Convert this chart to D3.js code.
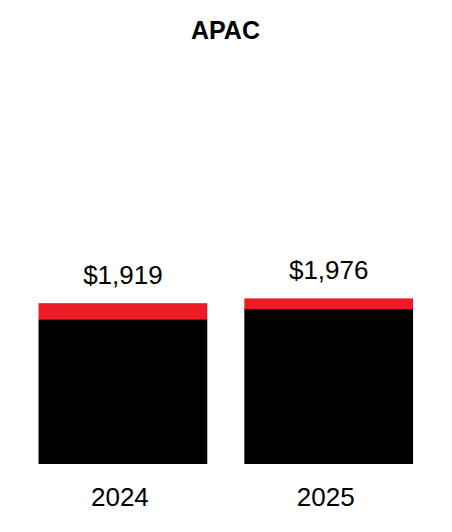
<!DOCTYPE html>
<html><head><meta charset="utf-8">
<script src="https://cdn.jsdelivr.net/npm/d3@7"></script>
<style>body{margin:0;background:#fff}svg{display:block}text{font-family:"Liberation Sans",Arial,sans-serif}</style>
</head><body><svg id="c" width="452" height="532"></svg>
<script>
const title = "APAC";
const years = ["2024", "2025"];
const baseValues = [1728, 1849];
const topValues = [191, 127];
const totals = [1919, 1976];
const totalLabels = ["$1,919", "$1,976"];

const svg = d3.select("#c");
const x = d3.scaleBand().domain(years).range([20, 431.6]).paddingInner(0.18).paddingOuter(0.09);
const y = d3.scaleLinear().domain([0, 5000]).range([464, 45]);

svg.append("text").attr("x", 225.5).attr("y", 38.5).attr("text-anchor", "middle")
  .attr("font-size", 25).attr("font-weight", "bold").text(title);

const data = years.map((yr, i) => ({yr, base: baseValues[i], top: topValues[i], total: totals[i], label: totalLabels[i]}));

svg.selectAll("rect.base").data(data).join("rect").attr("class", "base")
  .attr("x", d => x(d.yr)).attr("width", x.bandwidth())
  .attr("y", d => y(d.base)).attr("height", d => y(0) - y(d.base)).attr("fill", "#000");
svg.selectAll("rect.top").data(data).join("rect").attr("class", "top")
  .attr("x", d => x(d.yr)).attr("width", x.bandwidth())
  .attr("y", d => y(d.base + d.top)).attr("height", d => y(d.base) - y(d.base + d.top)).attr("fill", "#ED1C24");

svg.selectAll("text.val").data(data).join("text").attr("class", "val")
  .attr("x", d => x(d.yr) + x.bandwidth() / 2).attr("y", d => y(d.total) - 19)
  .attr("text-anchor", "middle").attr("font-size", 26).text(d => d.label);

svg.selectAll("text.yr").data(data).join("text").attr("class", "yr")
  .attr("x", d => x(d.yr) + x.bandwidth() / 2 - 3).attr("y", 506)
  .attr("text-anchor", "middle").attr("font-size", 26).text(d => d.yr);
</script></body></html>
